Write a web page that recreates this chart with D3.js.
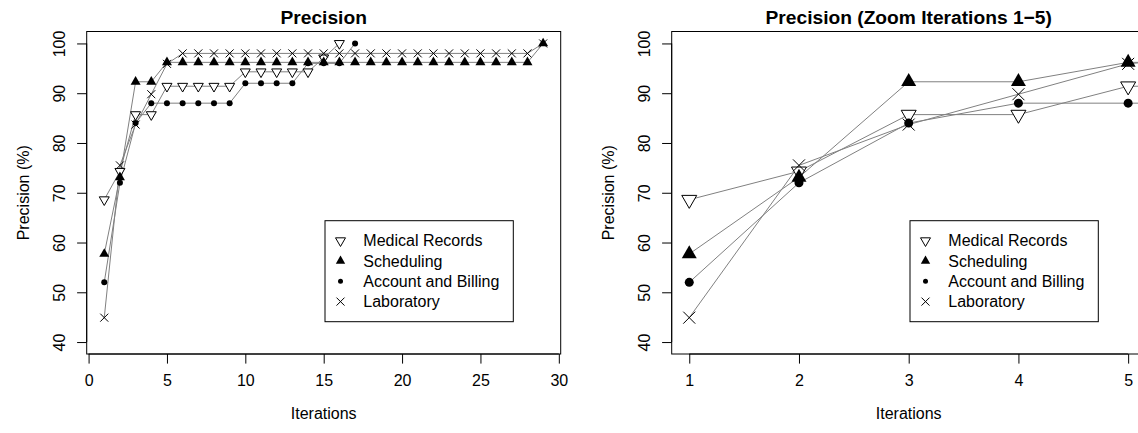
<!DOCTYPE html>
<html>
<head>
<meta charset="utf-8">
<script src="https://cdn.jsdelivr.net/npm/d3@7"></script>
<style>
  body { margin: 0; background: #fff; }
  svg { display: block; font-family: "Liberation Sans", Arial, sans-serif; }
</style>
</head>
<body>
<div id="chart"></div>
<script>
// data
const iterations = [1, 2, 3, 4, 5, 6, 7, 8, 9, 10, 11, 12, 13, 14, 15, 16, 17, 18, 19, 20, 21, 22, 23, 24, 25, 26, 27, 28, 29];
const medicalRecords = [68.6, 74.3, 85.7, 85.7, 91.4, 91.4, 91.4, 91.4, 91.4, 94.3, 94.3, 94.3, 94.3, 94.3, 97.1, 100];
const scheduling = [57.7, 73.1, 92.3, 92.3, 96.2, 96.2, 96.2, 96.2, 96.2, 96.2, 96.2, 96.2, 96.2, 96.2, 96.2, 96.2, 96.2, 96.2, 96.2, 96.2, 96.2, 96.2, 96.2, 96.2, 96.2, 96.2, 96.2, 96.2, 100];
const accountBilling = [52, 72, 84, 88, 88, 88, 88, 88, 88, 92, 92, 92, 92, 96, 96, 96, 100];
const laboratory = [44.9, 75.5, 83.7, 89.8, 95.9, 98, 98, 98, 98, 98, 98, 98, 98, 98, 98, 98, 98, 98, 98, 98, 98, 98, 98, 98, 98, 98, 98, 98, 100];

const seriesNames = ['Medical Records', 'Scheduling', 'Account and Billing', 'Laboratory'];
const seriesShapes = ['tridown', 'triup', 'dot', 'cross'];
const seriesValues = [medicalRecords, scheduling, accountBilling, laboratory];

const yTicks = [40, 50, 60, 70, 80, 90, 100];
const yLimits = [40, 100];

const panels = [
  { title: 'Precision', xLimits: [1, 29], xTicks: [0, 5, 10, 15, 20, 25, 30], scale: 1 },
  { title: 'Precision (Zoom Iterations 1\u22125)', xLimits: [1, 5], xTicks: [1, 2, 3, 4, 5], scale: 1.5 }
];

const W = 1138, H = 433;
const panelW = 585;
const box = { left: 86.7, right: 560.7, top: 31.5, bottom: 354 };
const lineCol = '#808080';

const svg = d3.select('#chart').append('svg').attr('width', W).attr('height', H);

// marker path around 0,0 ; s = half width
function marker(shape, s) {
  if (shape === 'triup' || shape === 'tridown') {
    const r = s * 1.1547, k = shape === 'triup' ? 1 : -1;
    return `M0,${-k * r}L${s},${k * r / 2}L${-s},${k * r / 2}Z`;
  }
  if (shape === 'cross') return `M${-s},${-s}L${s},${s}M${-s},${s}L${s},${-s}`;
  return d3.symbol(d3.symbolCircle, Math.PI * s * s)();
}

function drawMarker(g, shape, x, y, s) {
  const p = g.append('path').attr('transform', `translate(${x},${y})`)
    .attr('d', marker(shape, s.half[shape]));
  if (shape === 'tridown') p.attr('fill', '#fff').attr('stroke', '#000').attr('stroke-width', 1);
  else if (shape === 'cross') p.attr('fill', 'none').attr('stroke', '#000').attr('stroke-width', 1);
  else p.attr('fill', '#000');
}

function ext(lim) {
  const d = (lim[1] - lim[0]) * 0.04;
  return [lim[0] - d, lim[1] + d];
}

panels.forEach((p, pi) => {
  const g = svg.append('g').attr('transform', `translate(${pi * panelW},0)`);
  const x = d3.scaleLinear().domain(ext(p.xLimits)).range([box.left, box.right]);
  const y = d3.scaleLinear().domain(ext(yLimits)).range([box.bottom, box.top]);
  const sz = { half: { tridown: 5 * p.scale, triup: 5 * p.scale, dot: 3 * p.scale, cross: 4 * p.scale } };

  const clipId = 'clip' + pi;
  g.append('clipPath').attr('id', clipId).append('rect')
    .attr('x', box.left).attr('y', box.top)
    .attr('width', box.right - box.left).attr('height', box.bottom - box.top);

  const plot = g.append('g').attr('clip-path', `url(#${clipId})`);
  const line = d3.line().x((d, i) => x(iterations[i])).y(d => y(d));

  seriesValues.forEach((vals, si) => {
    plot.append('path').datum(vals)
      .attr('fill', 'none').attr('stroke', lineCol).attr('stroke-width', 1)
      .attr('d', line);
  });
  seriesValues.forEach((vals, si) => {
    vals.forEach((v, i) => drawMarker(plot, seriesShapes[si], x(iterations[i]), y(v), sz));
  });

  // box
  g.append('rect').attr('x', box.left).attr('y', box.top)
    .attr('width', box.right - box.left).attr('height', box.bottom - box.top)
    .attr('fill', 'none').attr('stroke', '#000').attr('stroke-width', 1);

  // x axis
  const xa = g.append('g').attr('transform', `translate(0,${box.bottom})`)
    .call(d3.axisBottom(x).tickValues(p.xTicks).tickSize(9.6).tickPadding(11).tickFormat(d3.format('d')));
  xa.selectAll('text').attr('font-size', 16).attr('fill', '#000').attr('font-family', null);
  xa.selectAll('line,path').attr('stroke', '#000');
  xa.select('.domain').attr('d', `M${x(p.xTicks[0])},0H${x(p.xTicks[p.xTicks.length - 1])}`);

  // y axis
  const ya = g.append('g').attr('transform', `translate(${box.left},0)`)
    .call(d3.axisLeft(y).tickValues(yTicks).tickSize(9.6).tickFormat(d3.format('d')));
  ya.selectAll('line,path').attr('stroke', '#000');
  ya.select('.domain').attr('d', `M0,${y(yTicks[0])}V${y(yTicks[yTicks.length - 1])}`);
  ya.selectAll('text')
    .attr('font-size', 16).attr('fill', '#000').attr('font-family', null)
    .attr('x', null).attr('dy', null)
    .attr('text-anchor', 'middle')
    .attr('transform', 'translate(-21.5,0) rotate(-90)');

  // titles
  g.append('text').attr('x', (box.left + box.right) / 2).attr('y', 24)
    .attr('text-anchor', 'middle').attr('font-size', 19.2).attr('font-weight', 'bold')
    .text(p.title);
  g.append('text').attr('x', (box.left + box.right) / 2).attr('y', 419)
    .attr('text-anchor', 'middle').attr('font-size', 16).text('Iterations');
  g.append('text').attr('transform', `translate(29,${(box.top + box.bottom) / 2}) rotate(-90)`)
    .attr('text-anchor', 'middle').attr('font-size', 16).text('Precision (%)');

  // legend
  const lg = g.append('g');
  lg.append('rect').attr('x', 325).attr('y', 220.7).attr('width', 188.3).attr('height', 101)
    .attr('fill', '#fff').attr('stroke', '#000').attr('stroke-width', 1);
  const legSz = { half: { tridown: 5, triup: 4.7, dot: 2.5, cross: 4 } };
  seriesNames.forEach((name, si) => {
    const cy = 240.7 + si * 20.3;
    drawMarker(lg, seriesShapes[si], 340.5, cy, legSz);
    lg.append('text').attr('x', 363.3).attr('y', cy + 5.7).attr('font-size', 16).text(name);
  });
});
</script>
</body>
</html>
